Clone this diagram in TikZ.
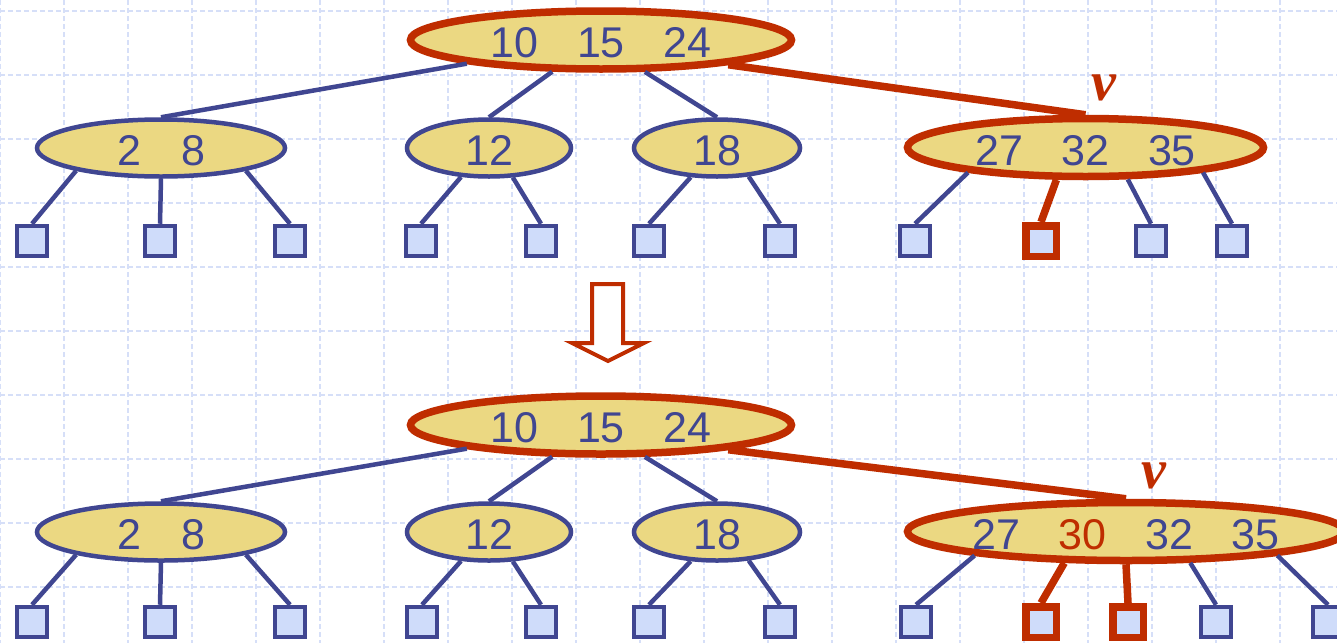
\documentclass[tikz,border=0pt]{standalone}
\usepackage{fontspec}
\setmainfont{Liberation Sans}
\newfontfamily\vfont{Liberation Serif}
\usetikzlibrary{shapes.geometric}
\definecolor{navy}{RGB}{64,70,145}
\definecolor{hred}{RGB}{191,45,0}
\definecolor{ellfill}{RGB}{235,216,130}
\definecolor{leaffill}{RGB}{207,220,250}
\definecolor{gridc}{RGB}{214,223,248}
\newcommand\kb[1]{\makebox[86.5pt]{#1}}
\newcommand\ks[1]{\makebox[64pt]{#1}}
\tikzset{
  keynode/.style={ellipse, draw=navy, line width=4.5pt, fill=ellfill, inner sep=0pt,
    text height=35pt, text depth=0pt, font=\fontsize{43}{43}\selectfont, text=navy,
    minimum height=57pt},
  hotnode/.style={keynode, draw=hred, line width=7.5pt, minimum height=58pt},
  leafbox/.style={rectangle, draw=navy, line width=4pt, fill=leaffill,
    minimum size=30.5pt, inner sep=0pt},
  redleaf/.style={leafbox, draw=hred, line width=7.5pt},
  edge/.style={draw=navy, line width=4.5pt},
  redge/.style={draw=hred, line width=7.5pt},
  gridline/.style={draw=gridc, line width=1.3pt, dash pattern=on 5pt off 3pt},
  vlab/.style={text=hred, font=\vfont\bfseries\itshape\fontsize{56}{56}\selectfont, inner sep=0pt},
  bigarrow/.style={draw=hred, line width=4pt, fill=white, line join=miter}
}
\begin{document}
\begin{tikzpicture}[x=1pt,y=-1pt]
\useasboundingbox (0,0) rectangle (1337,643);
\clip (0,0) rectangle (1337,643);
\fill[white] (0,0) rectangle (1337,643);
\foreach \x in {0,64,...,1280} \draw[gridline] (\x,0) -- (\x,643);
\foreach \y in {11,75,...,590} \draw[gridline] (0,\y) -- (1337,\y);

% ---------- top tree ----------
\node[hotnode, minimum width=381pt] (T) at (601,40) {\makebox[0pt]{\kb{10}\kb{15}\kb{24}}};
\node[keynode, minimum width=248pt] (TA) at (161,148) {\makebox[0pt]{\ks{2}\ks{8}}};
\node[keynode, minimum width=164pt] (TB) at (489,148) {\makebox[0pt]{12}};
\node[keynode, minimum width=166pt] (TC) at (717,148) {\makebox[0pt]{18}};
\node[hotnode, minimum width=356pt] (TD) at (1085.5,147.5) {\makebox[0pt]{\kb{27}\kb{32}\kb{35}}};
\node[vlab] (v1) at (1104,88) {v};

\node[leafbox] (t1) at (32,241) {};
\node[leafbox] (t2) at (160,241) {};
\node[leafbox] (t3) at (290,241) {};
\node[leafbox] (t4) at (421,241) {};
\node[leafbox] (t5) at (541,241) {};
\node[leafbox] (t6) at (649,241) {};
\node[leafbox] (t7) at (780,241) {};
\node[leafbox] (t8) at (915,241) {};
\node[redleaf] (t9) at (1041,241) {};
\node[leafbox] (t10) at (1151,241) {};
\node[leafbox] (t11) at (1232,241) {};

\draw[edge] (T.190) -- (TA.north);
\draw[edge] (T.213) -- (TB.north);
\draw[edge] (T.324) -- (TC.north);
\draw[redge] (T.349) -- (TD.north);
\draw[edge] (TA.195) -- (t1.north);
\draw[edge] (TA.270) -- (t2.north);
\draw[edge] (TA.345) -- (t3.north);
\draw[edge] (TB.226) -- (t4.north);
\draw[edge] (TB.309) -- (t5.north);
\draw[edge] (TC.228) -- (t6.north);
\draw[edge] (TC.318) -- (t7.north);
\draw[edge] (TD.192) -- (t8.north);
\draw[redge] (TD.228) -- (t9.north);
\draw[edge] (TD.323) -- (t10.north);
\draw[edge] (TD.348) -- (t11.north);

% ---------- arrow ----------
\draw[bigarrow] (592,284) -- (623,284) -- (623,343) -- (644,343) -- (608,361)
  -- (572,343) -- (592,343) -- cycle;

% ---------- bottom tree ----------
\node[hotnode, minimum width=381pt] (R) at (601,425) {\makebox[0pt]{\kb{10}\kb{15}\kb{24}}};
\node[keynode, minimum width=248pt] (RA) at (161,532) {\makebox[0pt]{\ks{2}\ks{8}}};
\node[keynode, minimum width=164pt] (RB) at (489,532) {\makebox[0pt]{12}};
\node[keynode, minimum width=166pt] (RC) at (717,532) {\makebox[0pt]{18}};
\node[hotnode, minimum width=437pt] (RD) at (1126,531.5) {\makebox[0pt]{\kb{27}\kb{\textcolor{hred}{30}}\kb{32}\kb{35}}};
\node[vlab] (v2) at (1154,476) {v};

\node[leafbox] (b1) at (32,622) {};
\node[leafbox] (b2) at (160,622) {};
\node[leafbox] (b3) at (290,622) {};
\node[leafbox] (b4) at (422,622) {};
\node[leafbox] (b5) at (541,622) {};
\node[leafbox] (b6) at (649,622) {};
\node[leafbox] (b7) at (780,622) {};
\node[leafbox] (b8) at (916,622) {};
\node[redleaf] (b9) at (1041,622) {};
\node[redleaf] (b10) at (1128,622) {};
\node[leafbox] (b11) at (1216,622) {};
\node[leafbox] (b12) at (1328,622) {};

\draw[edge] (R.190) -- (RA.north);
\draw[edge] (R.213) -- (RB.north);
\draw[edge] (R.324) -- (RC.north);
\draw[redge] (R.349) -- (RD.north);
\draw[edge] (RA.195) -- (b1.north);
\draw[edge] (RA.270) -- (b2.north);
\draw[edge] (RA.345) -- (b3.north);
\draw[edge] (RB.226) -- (b4.north);
\draw[edge] (RB.309) -- (b5.north);
\draw[edge] (RC.228) -- (b6.north);
\draw[edge] (RC.318) -- (b7.north);
\draw[edge] (RD.189) -- (b8.north);
\draw[redge] (RD.207) -- (b9.north);
\draw[redge] (RD.270) -- (b10.north);
\draw[edge] (RD.334) -- (b11.north);
\draw[edge] (RD.351) -- (b12.north);
\end{tikzpicture}
\end{document}
